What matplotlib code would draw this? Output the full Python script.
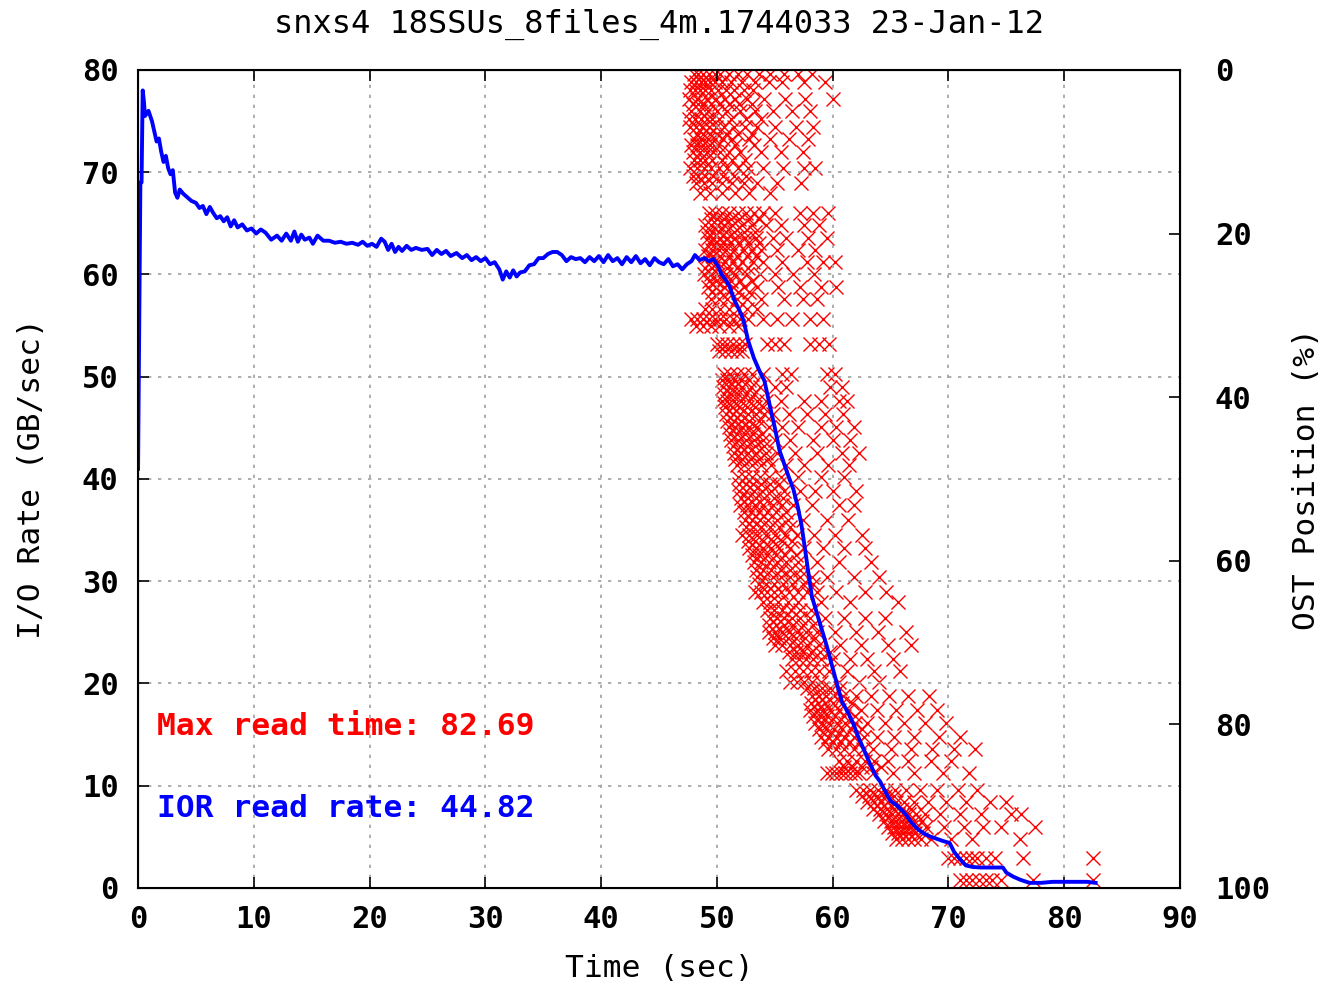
import matplotlib
matplotlib.use('Agg')
import matplotlib.pyplot as plt

plt.rcParams['font.family'] = ['DejaVu Sans Mono']
plt.rcParams['font.weight'] = 'bold'

TITLE = 'snxs4 18SSUs_8files_4m.1744033 23-Jan-12'

# aggregate I/O rate (GB/s) vs time (s)
rate_t = [0.0, 0.1, 0.2, 0.3, 0.4, 0.5, 0.6, 0.9, 1.2, 1.4, 1.6, 1.8, 2.0, 2.2, 2.4,
          2.6, 2.8, 3.0, 3.2, 3.4, 3.6, 3.9, 4.2, 4.6, 5.0, 5.3, 5.6, 5.9, 6.2, 6.5,
          6.8, 7.1, 7.4, 7.7, 8.0, 8.3, 8.6, 9.0, 9.4, 9.8, 10.2, 10.6, 11.0, 11.5,
          12.0, 12.4, 12.8, 13.2, 13.5, 13.8, 14.1, 14.4, 14.8, 15.1, 15.5, 16.0,
          16.5, 17.0, 17.5, 18.0, 18.5, 19.0, 19.4, 19.8, 20.2, 20.6, 21.0, 21.3,
          21.6, 21.9, 22.2, 22.5, 22.8, 23.2, 23.6, 24.0, 24.5, 25.0, 25.4, 25.8,
          26.2, 26.6, 27.0, 27.5, 28.0, 28.4, 28.8, 29.2, 29.6, 30.0, 30.4, 30.8,
          31.2, 31.5, 31.8, 32.1, 32.4, 32.7, 33.0, 33.4, 33.8, 34.2, 34.6, 35.0,
          35.4, 35.8, 36.2, 36.6, 37.0, 37.4, 37.8, 38.2, 38.6, 39.0, 39.4, 39.8,
          40.2, 40.6, 41.0, 41.4, 41.8, 42.2, 42.6, 43.0, 43.4, 43.8, 44.2, 44.6,
          45.0, 45.4, 45.8, 46.2, 46.6, 47.0, 47.4, 47.8, 48.1, 48.5, 48.9, 49.3,
          49.7, 50.1, 50.4, 50.8, 51.1, 51.5, 51.9, 52.3, 52.7, 53.2, 53.7, 54.1,
          54.6, 55.0, 55.4, 55.8, 56.2, 56.6, 57.0, 57.3, 57.6, 57.9, 58.2, 58.6,
          59.0, 59.5, 60.0, 60.4, 60.8, 61.3, 61.8, 62.2, 62.7, 63.2, 63.7, 64.1,
          64.6, 65.0, 65.4, 65.8, 66.3, 66.8, 67.3, 67.9, 68.5, 69.0, 69.5, 70.1,
          70.5, 71.0, 71.5, 72.1, 72.8, 73.5, 74.1, 74.7, 75.0, 75.6, 76.2, 77.0,
          78.0, 79.0, 80.0, 81.0, 82.0, 82.7]
rate_v = [41.0, 55.0, 69.0, 69.0, 78.0, 77.0, 75.5, 76.0, 75.0, 74.0, 73.0, 73.3, 72.0, 71.0, 71.6,
          70.4, 69.8, 70.2, 68.0, 67.5, 68.3, 67.9, 67.6, 67.2, 67.0, 66.5, 66.7, 65.9, 66.6, 66.0,
          65.5, 65.7, 65.2, 65.6, 64.7, 65.3, 64.6, 64.9, 64.3, 64.5, 64.0, 64.4, 64.1, 63.4,
          63.8, 63.3, 64.0, 63.3, 64.2, 63.2, 63.9, 63.4, 63.6, 63.0, 63.8, 63.3,
          63.3, 63.1, 63.2, 63.0, 63.1, 62.9, 63.2, 62.8, 63.0, 62.7, 63.5, 63.2,
          62.4, 63.0, 62.2, 62.7, 62.3, 62.8, 62.4, 62.6, 62.4, 62.5, 61.9, 62.4,
          62.0, 62.3, 61.8, 62.1, 61.6, 61.9, 61.4, 61.7, 61.3, 61.6, 61.0, 61.2,
          60.5, 59.5, 60.3, 59.7, 60.4, 59.8, 60.2, 60.3, 60.9, 61.0, 61.6, 61.6,
          62.0, 62.2, 62.2, 61.9, 61.3, 61.7, 61.5, 61.6, 61.2, 61.7, 61.3, 61.8,
          61.2, 61.9, 61.3, 61.6, 61.0, 61.7, 61.2, 61.8, 61.1, 61.5, 60.9, 61.6,
          61.2, 61.0, 61.5, 60.8, 61.0, 60.5, 61.0, 61.3, 61.9, 61.4, 61.6, 61.3,
          61.5, 60.8, 60.0, 59.4, 58.8, 57.5, 56.6, 55.5, 53.5, 51.8, 50.5, 49.6,
          47.0, 45.0, 42.8, 41.5, 40.2, 39.0, 37.2, 35.5, 33.2, 30.8, 28.5, 27.0,
          25.5, 23.6, 21.5, 19.8, 18.2, 17.2, 16.0, 14.8, 13.5, 12.2, 11.0, 10.4,
          9.3, 8.5, 8.2, 7.8, 7.2, 6.4, 5.8, 5.3, 5.0, 4.8, 4.6, 4.4,
          3.5, 2.8, 2.2, 2.05, 2.0, 2.0, 2.0, 2.0, 1.5, 1.1, 0.8, 0.5,
          0.5, 0.6, 0.6, 0.6, 0.6, 0.5]

# OST position (%) -> finish times (s) of the reads at that position
ost_rows = {
    0.5: [48.0, 48.4, 48.8, 49.3, 49.8, 50.3, 51.0, 51.8, 52.6, 53.6, 54.6, 55.8, 57.0, 58.2],
    1.5: [47.8, 48.2, 48.6, 49.0, 49.4, 49.8, 50.4, 51.2, 52.2, 53.3, 54.5, 55.6, 57.5, 59.3],
    2.5: [47.7, 48.1, 48.5, 49.0, 49.5, 50.1, 50.8, 51.5, 52.3, 53.1],
    3.5: [47.6, 48.3, 49.1, 49.9, 50.7, 51.6, 52.6, 54.1, 55.9, 57.6, 60.0],
    4.2: [47.9, 48.4, 48.9, 49.5, 50.2, 51.0, 51.9, 53.0],
    5.0: [47.8, 48.5, 49.2, 50.0, 50.9, 52.0, 53.3, 54.8, 56.5, 58.0],
    6.0: [47.6, 48.1, 48.6, 49.1, 49.6, 50.2, 51.2, 52.5, 53.8],
    7.0: [47.7, 48.2, 48.7, 49.3, 49.9, 50.6, 51.5, 52.4, 53.5, 55.0, 56.8, 58.3],
    7.8: [48.3, 48.8, 49.4, 50.0, 50.8, 51.8, 53.0],
    8.5: [48.0, 48.6, 49.2, 49.8, 50.5, 51.3, 52.8, 54.6, 56.2, 57.9],
    9.2: [47.8, 48.3, 48.8, 49.4, 50.1, 51.6, 53.2],
    10.0: [47.9, 48.5, 49.1, 49.7, 50.3, 51.0, 52.0, 53.8, 55.5, 57.4],
    11.0: [48.0, 48.5, 49.0, 49.6, 50.4, 51.3, 52.4],
    12.0: [47.7, 48.3, 48.9, 49.5, 50.2, 50.9, 51.8, 52.7, 54.0, 55.7, 57.5, 58.5],
    13.0: [47.9, 48.4, 49.0, 49.7, 50.5, 51.5, 52.5],
    13.8: [48.2, 48.9, 49.6, 50.4, 51.3, 52.3, 53.5, 55.2, 57.3],
    15.0: [48.5, 49.4, 50.4, 51.6, 52.8, 54.6],
    17.5: [49.3, 49.8, 50.4, 51.0, 51.8, 52.5, 53.2, 54.0, 55.0, 57.2, 58.3, 59.6],
    18.2: [49.5, 50.0, 50.6, 51.2, 51.9, 52.8, 53.6],
    19.0: [49.0, 49.5, 50.0, 50.6, 51.3, 52.2, 53.0, 54.2, 55.5, 57.5, 58.8],
    19.8: [49.1, 49.6, 50.2, 50.8, 51.5, 52.3, 53.3],
    20.5: [49.2, 49.7, 50.3, 50.9, 51.6, 52.4, 53.4, 54.8, 56.0, 57.9, 59.5],
    21.2: [49.4, 49.9, 50.5, 51.1, 51.8, 52.7, 53.6],
    22.0: [49.0, 49.6, 50.2, 50.8, 51.5, 52.3, 53.0, 53.8, 55.2, 57.0, 58.5],
    22.8: [49.2, 49.7, 50.3, 51.0, 51.7, 52.6, 53.4],
    23.5: [49.4, 50.0, 50.7, 51.4, 52.2, 53.1, 54.0, 55.6, 57.8, 59.2, 60.2],
    24.2: [49.0, 49.6, 50.2, 50.9, 51.7, 52.7],
    25.0: [48.9, 49.5, 50.1, 50.8, 51.6, 52.6, 53.7, 55.0, 56.6, 58.4],
    25.8: [49.3, 49.9, 50.5, 51.2, 52.0, 53.0],
    26.5: [49.2, 49.9, 50.6, 51.4, 52.3, 53.5, 55.3, 57.2, 59.0, 60.3],
    27.2: [49.6, 50.3, 51.0, 51.8, 52.8],
    28.0: [49.5, 50.2, 50.9, 51.7, 52.6, 53.8, 55.8, 57.4, 58.6],
    29.2: [49.0, 49.6, 50.3, 51.0, 51.8, 52.6, 53.5],
    30.5: [47.8, 48.3, 48.8, 49.3, 49.8, 50.3, 50.8, 51.4, 52.0, 52.7, 54.0, 55.2, 56.5, 58.0, 59.2],
    31.3: [48.2, 48.8, 49.5, 50.2, 51.0, 51.8],
    33.5: [50.0, 50.4, 50.9, 51.4, 51.9, 52.4, 54.3, 55.0, 55.8, 58.0, 58.8, 59.7],
    34.3: [50.2, 50.7, 51.2, 51.7, 52.2],
    37.2: [50.6, 51.1, 51.7, 52.3, 53.0, 54.0, 55.6, 56.4, 59.5, 60.2],
    37.9: [50.4, 50.9, 51.5, 52.1, 52.8],
    38.7: [50.5, 51.0, 51.6, 52.2, 52.9, 53.7, 55.0, 56.0, 59.8, 60.8],
    39.6: [50.6, 51.2, 51.8, 52.5, 53.2],
    40.5: [50.4, 50.9, 51.5, 52.1, 52.8, 53.5, 54.2, 55.5, 57.5, 59.0, 60.5, 61.2],
    41.2: [50.7, 51.3, 51.9, 52.6, 53.3, 54.0],
    42.0: [50.8, 51.4, 52.0, 52.7, 53.4, 54.1, 54.8, 56.2, 57.8, 59.3, 60.9],
    42.9: [50.9, 51.5, 52.1, 52.8, 53.6],
    43.7: [51.0, 51.6, 52.2, 52.8, 53.5, 54.5, 55.6, 57.0, 59.0, 60.3, 61.8],
    44.5: [51.1, 51.7, 52.4, 53.1, 53.9],
    45.2: [51.2, 51.8, 52.5, 53.2, 54.0, 55.0, 56.3, 58.3, 60.0, 61.5],
    46.0: [51.4, 52.0, 52.6, 53.3, 54.1],
    46.8: [51.5, 52.1, 52.7, 53.4, 54.2, 55.2, 56.7, 58.6, 60.8, 62.3],
    47.5: [51.6, 52.2, 52.9, 53.6, 54.4],
    48.3: [51.7, 52.3, 53.0, 53.8, 54.7, 56.0, 57.5, 59.6, 61.4],
    49.8: [51.8, 52.4, 53.0, 53.7, 54.5, 55.5, 57.0, 59.0, 61.0],
    50.6: [51.9, 52.5, 53.1, 53.8, 54.6, 55.4],
    51.5: [51.9, 52.5, 53.2, 53.9, 54.7, 55.8, 57.2, 58.5, 60.0, 62.0],
    52.3: [52.1, 52.7, 53.4, 54.1, 54.9, 55.7],
    53.2: [52.0, 52.6, 53.3, 54.0, 54.8, 55.6, 56.6, 58.2, 60.5, 61.8],
    54.1: [52.3, 52.9, 53.6, 54.3, 55.1, 56.0],
    55.0: [52.4, 53.0, 53.7, 54.4, 55.2, 56.1, 57.4, 59.5, 61.3],
    55.9: [52.5, 53.1, 53.8, 54.6, 55.4, 56.3],
    56.8: [52.2, 52.8, 53.5, 54.2, 55.0, 55.9, 56.9, 58.4, 60.2, 62.5],
    57.6: [52.7, 53.3, 54.0, 54.8, 55.6, 56.5],
    58.5: [52.8, 53.4, 54.0, 54.7, 55.4, 56.3, 57.5, 59.2, 61.0, 62.8],
    59.3: [53.0, 53.6, 54.3, 55.1, 55.9, 56.8],
    60.2: [53.2, 53.8, 54.5, 55.2, 56.0, 57.0, 58.6, 60.5, 63.3],
    61.1: [53.4, 54.0, 54.7, 55.5, 56.3, 57.2],
    62.0: [53.5, 54.1, 54.8, 55.5, 56.3, 57.2, 58.2, 59.5, 61.8, 64.0],
    62.9: [53.6, 54.2, 54.9, 55.7, 56.5, 57.4, 58.3],
    63.8: [53.3, 53.8, 54.3, 54.9, 55.5, 56.2, 57.0, 57.8, 58.6, 60.3, 62.8, 64.6],
    65.0: [54.0, 54.6, 55.3, 56.1, 57.0, 59.0, 61.5, 65.6],
    66.0: [54.3, 54.9, 55.6, 56.4, 57.2, 58.1],
    67.0: [54.6, 55.2, 55.8, 56.5, 57.2, 58.0, 59.3, 61.0, 62.8, 64.5],
    67.8: [54.5, 55.1, 55.8, 56.6, 57.4, 58.3],
    68.7: [54.5, 55.0, 55.6, 56.2, 56.9, 57.7, 58.6, 60.2, 62.0, 63.9, 66.3],
    69.5: [54.8, 55.4, 56.1, 56.8, 57.6, 58.5],
    70.3: [55.0, 55.6, 56.3, 57.0, 57.8, 58.8, 60.6, 62.4, 64.8, 66.8],
    71.2: [56.2, 56.8, 57.4, 58.1, 58.9, 59.8],
    72.0: [56.5, 57.1, 57.7, 58.3, 59.0, 60.0, 61.5, 63.0, 65.2],
    73.5: [56.0, 56.7, 57.4, 58.1, 58.8, 59.7, 61.2, 63.6, 65.8],
    74.8: [56.3, 56.9, 57.5, 58.2, 59.0, 60.5, 62.3, 64.0],
    75.6: [57.8, 58.4, 59.1, 59.8, 60.6],
    76.5: [58.2, 58.8, 59.4, 60.1, 60.9, 62.0, 63.3, 64.9, 66.5, 68.3],
    77.4: [58.1, 58.7, 59.3, 60.0, 60.8, 61.7],
    78.2: [58.0, 58.6, 59.2, 59.8, 60.5, 61.3, 62.4, 63.8, 65.5, 67.3, 69.0],
    79.0: [58.3, 58.9, 59.5, 60.2, 61.0, 61.9],
    79.8: [58.5, 59.1, 59.7, 60.4, 61.1, 61.9, 63.0, 64.5, 66.2, 68.0, 69.8],
    80.6: [58.8, 59.4, 60.1, 60.8, 61.6, 62.5],
    81.5: [59.0, 59.6, 60.3, 61.0, 61.8, 62.7, 63.8, 65.3, 67.0, 69.2, 71.0],
    82.2: [59.3, 60.0, 60.7, 61.5, 62.3],
    83.0: [59.6, 60.3, 61.0, 61.8, 62.6, 63.5, 65.0, 66.8, 68.6, 70.5, 72.3],
    84.5: [60.5, 61.2, 62.0, 62.8, 63.6, 64.8, 66.5, 68.5, 70.2],
    85.2: [61.0, 61.7, 62.5, 63.3, 64.2],
    86.0: [59.5, 59.9, 60.3, 60.7, 61.1, 61.5, 61.9, 62.3, 63.5, 65.2, 67.0, 69.5, 71.8],
    88.0: [62.0, 62.6, 63.2, 63.9, 64.6, 65.4, 66.3, 67.5, 69.0, 70.8, 72.5],
    88.8: [62.5, 63.1, 63.8, 64.5, 65.3],
    89.5: [63.0, 63.6, 64.2, 64.8, 65.5, 66.2, 67.0, 68.2, 69.8, 71.5, 73.6, 75.0],
    90.3: [63.5, 64.1, 64.7, 65.3, 66.0, 66.8],
    91.0: [64.0, 64.6, 65.1, 65.6, 66.1, 66.6, 67.2, 68.0, 69.3, 71.0, 72.8, 75.4, 76.3],
    91.8: [64.4, 65.0, 65.5, 66.0, 66.5, 67.0, 67.7],
    92.5: [64.8, 65.3, 65.8, 66.3, 66.8, 67.3, 68.1, 69.6, 71.3, 73.0, 74.5, 77.5],
    93.3: [65.1, 65.6, 66.1, 66.6, 67.1, 67.8],
    94.0: [65.5, 66.0, 66.5, 67.0, 67.6, 68.5, 70.2, 72.0, 76.2],
    96.3: [70.0, 70.5, 71.0, 71.5, 72.0, 72.5, 73.2, 74.0, 76.4, 82.5],
    99.0: [71.0, 71.5, 72.0, 72.6, 73.2, 73.8, 74.5, 77.3, 82.5],
}

max_read_time = 82.69
ior_read_rate = 44.82

ost_t = []
ost_p = []
for pos, times in ost_rows.items():
    for t in times:
        ost_t.append(t)
        ost_p.append(pos)

fig = plt.figure(figsize=(13.25, 9.84), dpi=100)
ax = fig.add_axes([0.1042, 0.0976, 0.7864, 0.8313])
ax2 = ax.twinx()

# red crosses: OST position on the right (inverted) axis
ax2.plot(ost_t, ost_p, linestyle='none', marker='x', color='#ff0000',
         markersize=10, markeredgewidth=1.0)
ax2.set_ylim(100, 0)
ax2.set_yticks([0, 20, 40, 60, 80, 100])
ax2.tick_params(direction='in', length=8, width=1.2, labelsize=22, pad=25)
ax2.set_ylabel('OST Position (%)', fontsize=22.5, labelpad=16)

# blue rate line drawn on top
ax.set_zorder(ax2.get_zorder() + 1)
ax.patch.set_visible(False)
ax.plot(rate_t, rate_v, color='#0000ff', linewidth=2.8)
ax.set_xlim(0, 90)
ax.set_ylim(0, 80)
ax.set_xticks(range(0, 91, 10))
ax.set_yticks(range(0, 81, 10))
ax.tick_params(axis='x', direction='in', length=8, width=1.2, top=True,
               labelsize=22, pad=12)
ax.tick_params(axis='y', direction='in', length=8, width=1.2, labelsize=22, pad=14)
ax.grid(True, color='#a0a0a0', linestyle=(0, (2, 4)), linewidth=1.2)
for sp in ax.spines.values():
    sp.set_linewidth(1.5)

ax.set_xlabel('Time (sec)', fontsize=22.5, labelpad=15)
ax.set_ylabel('I/O Rate (GB/sec)', fontsize=22.5, labelpad=26)
ax.set_title(TITLE, fontsize=23, fontweight='normal', pad=27)

ax.text(1.6, 15.8, f'Max read time: {max_read_time:.2f}', color='#ff0000',
        fontsize=22.5, va='center', ha='left')
ax.text(1.6, 7.8, f'IOR read rate: {ior_read_rate:.2f}', color='#0000ff',
        fontsize=22.5, va='center', ha='left')

fig.savefig('out.png', dpi=100)
